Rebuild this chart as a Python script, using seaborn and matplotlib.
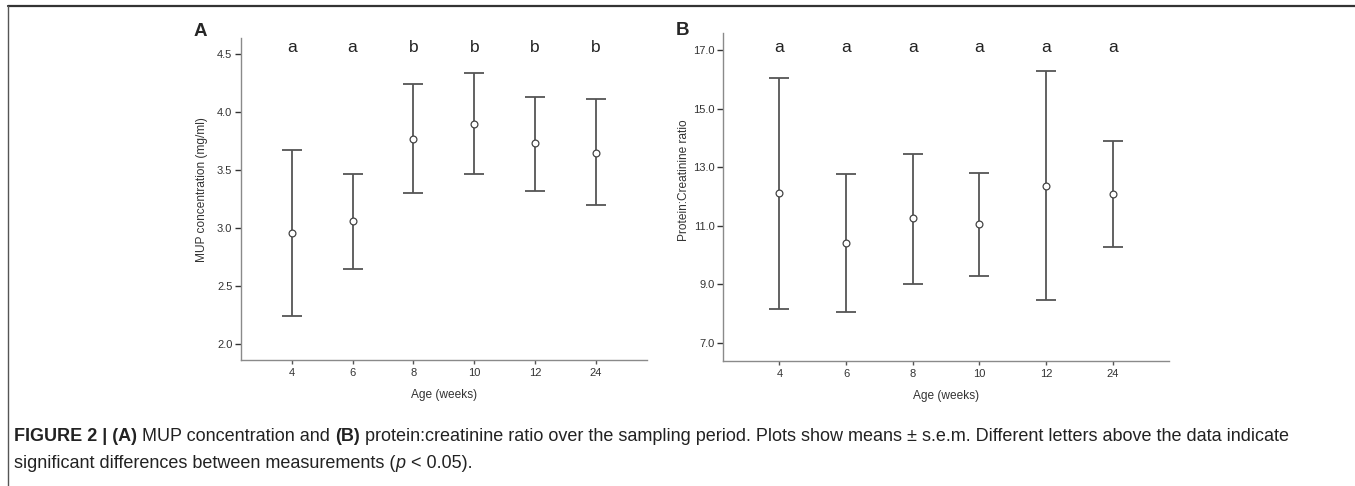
import matplotlib
matplotlib.use('Agg')
import matplotlib.pyplot as plt
import seaborn as sns
import pandas as pd
from matplotlib.lines import Line2D

sns.set_style('white')
plt.rcParams['font.family'] = ['Liberation Sans', 'DejaVu Sans']

# data (mean and mean +/- s.e.m.)
ages = ['4', '6', '8', '10', '12', '24']

mup_mean = [2.96, 3.06, 3.77, 3.90, 3.73, 3.65]
mup_upper = [3.67, 3.47, 4.24, 4.34, 4.13, 4.11]
mup_lower = [2.24, 2.65, 3.30, 3.47, 3.32, 3.20]
mup_letters = ['a', 'a', 'b', 'b', 'b', 'b']

pcr_mean = [12.11, 10.42, 11.25, 11.04, 12.37, 12.08]
pcr_upper = [16.05, 12.78, 13.44, 12.80, 16.30, 13.88]
pcr_lower = [8.16, 8.05, 9.02, 9.27, 8.45, 10.28]
pcr_letters = ['a', 'a', 'a', 'a', 'a', 'a']

W, H = 1355, 486
fig = plt.figure(figsize=(W / 100, H / 100), dpi=100)

spine_col = '#8a8a8a'
bar_col = '#555555'


def panel(rect, mean, lower, upper, letters, ylabel, yticks, ylim, letter_y, ylab_xy):
    ax = fig.add_axes(rect)
    df = pd.DataFrame({'age': ages, 'mean': mean, 'lower': lower, 'upper': upper})
    yerr = [df['mean'] - df['lower'], df['upper'] - df['mean']]
    ax.errorbar(df['age'], df['mean'], yerr=yerr, fmt='none', ecolor=bar_col,
                elinewidth=1.3, capsize=7.5, capthick=1.3, zorder=2)
    sns.scatterplot(data=df, x='age', y='mean', ax=ax, marker='o', s=24,
                    facecolor='white', edgecolor='#444444', linewidth=0.9, zorder=3)
    ax.set_xlim(-0.84, 5.84)
    ax.set_ylim(*ylim)
    ax.set_yticks(yticks)
    ax.set_yticklabels([f'{v:.1f}' for v in yticks])
    ax.set_xlabel('Age (weeks)', fontsize=8.6, color='#333333', labelpad=8)
    ax.set_ylabel(ylabel, fontsize=8.6, color='#333333')
    ax.yaxis.set_label_coords(*ylab_xy)
    for s in ['top', 'right']:
        ax.spines[s].set_visible(False)
    for s in ['left', 'bottom']:
        ax.spines[s].set_color(spine_col)
        ax.spines[s].set_linewidth(1.0)
    ax.tick_params(axis='y', left=True, length=4, width=1.0, color='#333333',
                   labelsize=8.0, labelcolor='#333333', pad=2)
    ax.tick_params(axis='x', bottom=True, length=3, width=1.0, color='#555555',
                   labelsize=8.0, labelcolor='#333333', pad=3)
    for i, lt in enumerate(letters):
        ax.text(i, letter_y, lt, transform=ax.get_xaxis_transform(),
                ha='center', va='center', fontsize=12.5, color='#222222')
    return ax


panel([0.1776, 0.2593, 0.2999, 0.6625], mup_mean, mup_lower, mup_upper, mup_letters,
      'MUP concentration (mg/ml)', [2.0, 2.5, 3.0, 3.5, 4.0, 4.5], (1.862, 4.64), 0.97,
      (-0.08, 0.53))
panel([0.5338, 0.2578, 0.3289, 0.6742], pcr_mean, pcr_lower, pcr_upper, pcr_letters,
      'Protein:Creatinine ratio', [7.0, 9.0, 11.0, 13.0, 15.0, 17.0], (6.385, 17.58), 0.955,
      (-0.075, 0.55))

# panel labels
fig.text(200 / W, 1 - 31 / H, 'A', fontsize=13.5, fontweight='bold', ha='center', va='center')
fig.text(683 / W, 1 - 30 / H, 'B', fontsize=13.5, fontweight='bold', ha='center', va='center')

# frame lines
fig.add_artist(Line2D([8 / W, 1], [1 - 6 / H, 1 - 6 / H], transform=fig.transFigure,
                      color='#333333', lw=1.6))
fig.add_artist(Line2D([8 / W, 8 / W], [0, 1 - 6 / H], transform=fig.transFigure,
                      color='#555555', lw=1.0))

# caption with mixed styles, pieces placed one after another
cap_size = 13.0
line1 = [('FIGURE 2 | (A)', 'bold', 'normal'), (' MUP concentration and ', 'normal', 'normal'),
         ('(B)', 'bold', 'normal'),
         (' protein:creatinine ratio over the sampling period. Plots show means \u00b1 s.e.m. '
          'Different letters above the data indicate', 'normal', 'normal')]
line2 = [('significant differences between measurements (', 'normal', 'normal'),
         ('p', 'normal', 'italic'), (' < 0.05).', 'normal', 'normal')]

fig.canvas.draw()
renderer = fig.canvas.get_renderer()
for pieces, ypix in [(line1, 436), (line2, 463)]:
    x = 14 / W
    for txt, wt, st in pieces:
        t = fig.text(x, 1 - ypix / H, txt, fontsize=cap_size, fontweight=wt, fontstyle=st,
                     ha='left', va='center', color='#222222')
        bb = t.get_window_extent(renderer=renderer)
        x += bb.width / W

fig.savefig('out.png', dpi=100)
